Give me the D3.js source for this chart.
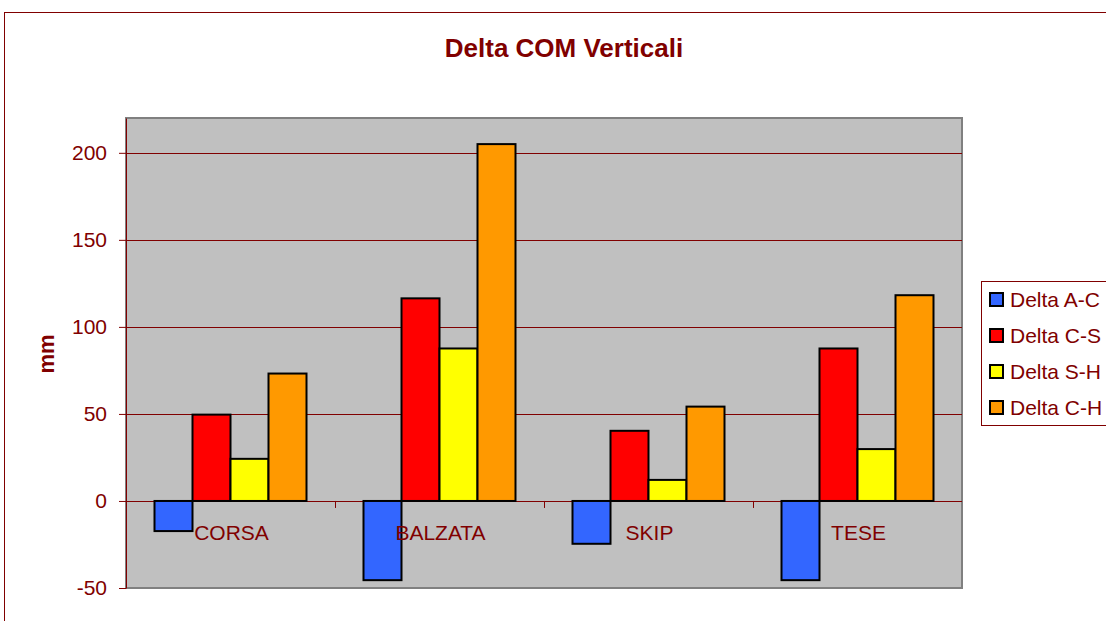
<!DOCTYPE html>
<html>
<head>
<meta charset="utf-8">
<script src="https://cdn.jsdelivr.net/npm/d3@7"></script>
<style>
  body { margin: 0; background: #fff; }
  svg { display: block; font-family: "Liberation Sans", Arial, sans-serif; }
</style>
</head>
<body>
<svg id="chart" width="1106" height="621"></svg>
<script>
const categories = ['CORSA', 'BALZATA', 'SKIP', 'TESE']
const seriesNames = ['Delta A-C', 'Delta C-S', 'Delta S-H', 'Delta C-H']
const seriesColors = ['#3366FF', '#FF0000', '#FFFF00', '#FF9900']
const deltaAC = [-17.3, -45.5, -24.6, -45.5]
const deltaCS = [49.6, 116.4, 40.3, 87.6]
const deltaSH = [24.2, 87.6, 12.1, 29.8]
const deltaCH = [73.2, 205, 54.2, 118.2]
const yTicks = [-50, 0, 50, 100, 150, 200]

const series = [deltaAC, deltaCS, deltaSH, deltaCH]
const dark = '#800000'

const svg = d3.select('#chart')
const plot = { left: 126, right: 962, top: 118, bottom: 588 }

// outer frame
svg.append('rect')
  .attr('x', 4.5).attr('y', 12.5)
  .attr('width', 1120).attr('height', 640)
  .attr('fill', 'none')
  .attr('stroke', dark)
  .attr('stroke-width', 1)

svg.append('text')
  .attr('x', 564).attr('y', 57)
  .attr('text-anchor', 'middle')
  .attr('font-size', 26).attr('font-weight', 'bold')
  .attr('fill', dark)
  .text('Delta COM Verticali')

const x = d3.scaleBand()
  .domain(categories)
  .range([plot.left, plot.right])

const y = d3.scaleLinear()
  .domain([-50, 220])
  .range([plot.bottom, plot.top])

const inner = d3.scaleBand()
  .domain(d3.range(seriesNames.length))
  .range([0, x.bandwidth()])
  .paddingOuter(0.75)

svg.append('rect')
  .attr('x', plot.left).attr('y', plot.top)
  .attr('width', plot.right - plot.left).attr('height', plot.bottom - plot.top)
  .attr('fill', '#C0C0C0')
  .attr('stroke', '#808080')
  .attr('stroke-width', 2)

// gridlines
svg.append('g')
  .selectAll('line')
  .data(yTicks.filter(d => d !== -50))
  .join('line')
  .attr('x1', plot.left).attr('x2', plot.right)
  .attr('y1', d => Math.round(y(d)) + 0.5).attr('y2', d => Math.round(y(d)) + 0.5)
  .attr('stroke', dark)
  .attr('stroke-width', 1)

// y axis
const yAxis = svg.append('g')
  .attr('transform', `translate(${plot.left},0)`)
  .call(d3.axisLeft(y).tickValues(yTicks).tickFormat(d => String(d))
    .tickSize(7).tickSizeOuter(0).tickPadding(12))
yAxis.select('.domain').attr('stroke', dark)
yAxis.selectAll('.tick line').attr('stroke', dark)
yAxis.selectAll('.tick text')
  .attr('fill', dark)
  .attr('font-size', 21)
  .attr('font-family', '"Liberation Sans", Arial, sans-serif')

svg.append('text')
  .attr('transform', 'translate(54,354) rotate(-90)')
  .attr('text-anchor', 'middle')
  .attr('font-size', 22).attr('font-weight', 'bold')
  .attr('fill', dark)
  .text('mm')

// category ticks on zero line
svg.append('g')
  .selectAll('line')
  .data(categories.slice(1))
  .join('line')
  .attr('x1', d => Math.round(x(d)) + 0.5).attr('x2', d => Math.round(x(d)) + 0.5)
  .attr('y1', y(0)).attr('y2', y(0) + 7)
  .attr('stroke', dark)

// bars
series.forEach((vals, si) => {
  svg.append('g')
    .selectAll('rect')
    .data(vals)
    .join('rect')
    .attr('x', (d, i) => x(categories[i]) + inner(si))
    .attr('y', d => y(Math.max(0, d)))
    .attr('width', inner.bandwidth())
    .attr('height', d => Math.abs(y(d) - y(0)))
    .attr('fill', seriesColors[si])
    .attr('stroke', '#000')
    .attr('stroke-width', 2)
})

// category labels
svg.append('g')
  .selectAll('text')
  .data(categories)
  .join('text')
  .attr('x', d => x(d) + x.bandwidth() / 2 + 1)
  .attr('y', 540)
  .attr('text-anchor', 'middle')
  .attr('font-size', 21)
  .attr('fill', dark)
  .text(d => d)

// legend
const legend = svg.append('g')
legend.append('rect')
  .attr('x', 981.5).attr('y', 281.5)
  .attr('width', 140).attr('height', 144)
  .attr('fill', '#fff')
  .attr('stroke', dark)

const item = legend.selectAll('g.item')
  .data(seriesNames)
  .join('g')
  .attr('class', 'item')
  .attr('transform', (d, i) => `translate(990,${293 + i * 36})`)
item.append('rect')
  .attr('width', 13).attr('height', 13)
  .attr('fill', (d, i) => seriesColors[i])
  .attr('stroke', '#000')
  .attr('stroke-width', 2)
item.append('text')
  .attr('x', 20).attr('y', 14)
  .attr('font-size', 21)
  .attr('fill', dark)
  .text(d => d)
</script>
</body>
</html>
